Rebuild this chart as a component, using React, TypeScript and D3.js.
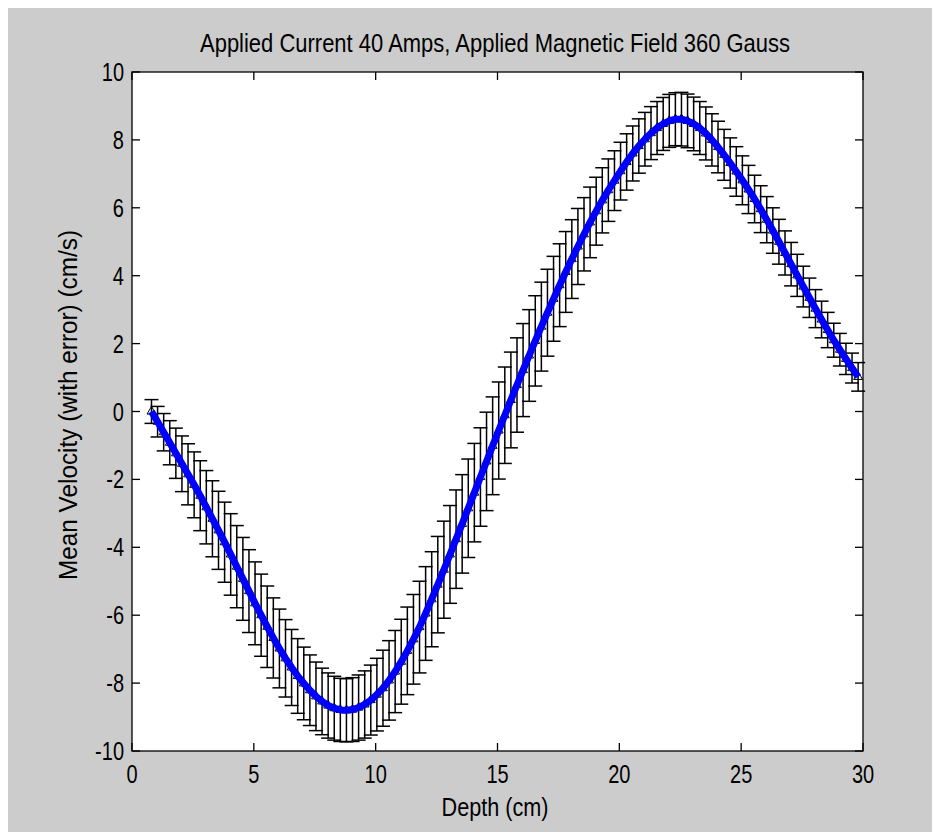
import React from 'react';
import * as d3 from 'd3';

const depth = [
  0.8, 1.05, 1.3, 1.55, 1.8, 2.05, 2.3, 2.55, 2.8, 3.05,
  3.3, 3.55, 3.8, 4.05, 4.3, 4.55, 4.8, 5.05, 5.3, 5.55, 5.8, 6.05, 6.3, 6.55, 6.8, 7.05,
  7.3, 7.55, 7.8, 8.05, 8.3, 8.55, 8.8, 9.05, 9.3, 9.55, 9.8, 10.05, 10.3,
  10.55, 10.8, 11.05, 11.3, 11.55, 11.8, 12.05, 12.3, 12.55, 12.8, 13.05,
  13.3, 13.55, 13.8, 14.05, 14.3, 14.55, 14.8, 15.05, 15.3, 15.55, 15.8, 16.05, 16.3, 16.55, 16.8, 17.05,
  17.3, 17.55, 17.8, 18.05, 18.3, 18.55, 18.8, 19.05, 19.3, 19.55, 19.8, 20.05,
  20.3, 20.55, 20.8, 21.05, 21.3, 21.55, 21.8, 22.05, 22.3, 22.55,
  22.8, 23.05, 23.3, 23.55, 23.8, 24.05, 24.3, 24.55, 24.8, 25.05,
  25.3, 25.55, 25.8, 26.05, 26.3, 26.55, 26.8, 27.05, 27.3, 27.55, 27.8, 28.05, 28.3, 28.55, 28.8, 29.05, 29.3, 29.55, 29.8,
];

const velocity = [
  0.0, -0.3, -0.61, -0.92, -1.23, -1.54, -1.85, -2.16, -2.48, -2.82,
  -3.16, -3.5, -3.85, -4.21, -4.57, -4.93, -5.29, -5.65, -6.0, -6.34, -6.67, -6.98, -7.27, -7.54, -7.79, -8.01,
  -8.21, -8.39, -8.54, -8.66, -8.74, -8.79, -8.8, -8.78, -8.72, -8.63, -8.5, -8.34, -8.15,
  -7.92, -7.66, -7.37, -7.05, -6.71, -6.35, -5.95, -5.53, -5.1, -4.66, -4.21,
  -3.76, -3.31, -2.85, -2.39, -1.93, -1.47, -1.01, -0.56, -0.11, 0.34, 0.78, 1.22, 1.65, 2.08, 2.5, 2.91,
  3.32, 3.72, 4.11, 4.49, 4.86, 5.22, 5.57, 5.9, 6.22, 6.52, 6.8, 7.08,
  7.35, 7.6, 7.82, 8.02, 8.2, 8.35, 8.47, 8.56, 8.61, 8.61,
  8.56, 8.47, 8.35, 8.19, 8.0, 7.79, 7.56, 7.32, 7.07, 6.81,
  6.54, 6.26, 5.96, 5.65, 5.33, 5.0, 4.67, 4.34, 4.01, 3.68, 3.35, 3.03, 2.71, 2.4, 2.1, 1.82, 1.55, 1.28, 1.02,
];

const errorVal = [
  0.35, 0.45, 0.55, 0.65, 0.74, 0.82, 0.9, 0.97, 1.03, 1.08,
  1.12, 1.15, 1.18, 1.2, 1.21, 1.22, 1.22, 1.22, 1.21, 1.2, 1.18, 1.16, 1.14, 1.12, 1.1, 1.07,
  1.04, 1.01, 0.98, 0.96, 0.94, 0.93, 0.93, 0.94, 0.96, 0.99, 1.03, 1.07, 1.12,
  1.17, 1.21, 1.25, 1.29, 1.32, 1.35, 1.38, 1.4, 1.42, 1.43, 1.44,
  1.45, 1.45, 1.45, 1.45, 1.45, 1.45, 1.44, 1.43, 1.42, 1.41, 1.39, 1.37, 1.35, 1.33, 1.31, 1.28,
  1.25, 1.22, 1.19, 1.16, 1.12, 1.08, 1.04, 1.0, 0.96, 0.92, 0.88, 0.85,
  0.83, 0.81, 0.8, 0.79, 0.78, 0.78, 0.78, 0.78, 0.78, 0.79,
  0.79, 0.79, 0.78, 0.78, 0.77, 0.76, 0.75, 0.74, 0.73, 0.72,
  0.71, 0.7, 0.69, 0.68, 0.67, 0.66, 0.65, 0.64, 0.62, 0.6, 0.58, 0.56, 0.54, 0.52, 0.5, 0.48, 0.46, 0.44, 0.42,
];

const xTicks = [0, 5, 10, 15, 20, 25, 30];
const yTicks = [-10, -8, -6, -4, -2, 0, 2, 4, 6, 8, 10];

const titleText = 'Applied Current 40 Amps, Applied Magnetic Field 360 Gauss';
const xLabel = 'Depth (cm)';
const yLabel = 'Mean Velocity (with error) (cm/s)';

const FONT = "'Liberation Sans', Arial, sans-serif";

export default function App() {
  const W = 932;
  const H = 824;
  const L = 124, R = 855, T = 64, B = 743;
  const x = d3.scaleLinear().domain([0, 30]).range([L, R]);
  const y = d3.scaleLinear().domain([-10, 10]).range([B, T]);
  const line = d3
    .line<number>()
    .x((_, i) => x(depth[i]))
    .y((d) => y(d));
  const tri = d3.symbol(d3.symbolTriangle, 34)() || '';
  const cap = 7;
  const tickLen = 8;
  const sx = 0.8;

  return (
    <svg width={W} height={H} style={{ display: 'block' }} fontFamily={FONT}>
      <rect x={0} y={0} width={W} height={H} fill="#cccccc" />
      <rect x={L} y={T} width={R - L} height={B - T} fill="#ffffff" />

      {/* error bars */}
      <g stroke="#000" strokeWidth={1.5} fill="none">
        {velocity.map((v, i) => {
          const cx = x(depth[i]);
          const y1 = y(v + errorVal[i]);
          const y2 = y(v - errorVal[i]);
          return (
            <g key={i}>
              <line x1={cx} x2={cx} y1={y1} y2={y2} />
              <line x1={cx - cap} x2={cx + cap} y1={y1} y2={y1} />
              <line x1={cx - cap} x2={cx + cap} y1={y2} y2={y2} />
            </g>
          );
        })}
      </g>

      {/* markers */}
      <g stroke="#000" strokeWidth={1} fill="none">
        {velocity.map((v, i) => (
          <path key={i} d={tri} transform={`translate(${x(depth[i])},${y(v)})`} />
        ))}
      </g>

      {/* blue line */}
      <path d={line(velocity) || ''} fill="none" stroke="#0000ff" strokeWidth={7} strokeLinejoin="round" />

      {/* axes box */}
      <rect x={L} y={T} width={R - L} height={B - T} fill="none" stroke="#000" strokeWidth={1.3} />

      {/* ticks */}
      <g stroke="#000" strokeWidth={1.3}>
        {xTicks.map((t) => (
          <g key={'x' + t}>
            <line x1={x(t)} x2={x(t)} y1={B} y2={B - tickLen} />
            <line x1={x(t)} x2={x(t)} y1={T} y2={T + tickLen} />
          </g>
        ))}
        {yTicks.map((t) => (
          <g key={'y' + t}>
            <line x1={L} x2={L + tickLen} y1={y(t)} y2={y(t)} />
            <line x1={R} x2={R - tickLen} y1={y(t)} y2={y(t)} />
          </g>
        ))}
      </g>

      {/* tick labels */}
      <g fontSize={25} fill="#000">
        {xTicks.map((t) => (
          <text key={'xl' + t} transform={`translate(${x(t)},775) scale(${sx},1)`} textAnchor="middle">
            {t}
          </text>
        ))}
        {yTicks.map((t) => (
          <text key={'yl' + t} transform={`translate(${L - 8},${y(t) + 9}) scale(${sx},1)`} textAnchor="end">
            {t}
          </text>
        ))}
      </g>

      {/* title */}
      <text x={487} y={44} textAnchor="middle" fontSize={26} fill="#000" textLength={590} lengthAdjust="spacingAndGlyphs">
        {titleText}
      </text>

      {/* x label */}
      <text x={487} y={808} textAnchor="middle" fontSize={26} fill="#000" textLength={107} lengthAdjust="spacingAndGlyphs">
        {xLabel}
      </text>

      {/* y label */}
      <text
        transform={`translate(68.5,397) rotate(-90)`}
        textAnchor="middle"
        fontSize={26}
        fill="#000"
        textLength={350}
        lengthAdjust="spacingAndGlyphs"
      >
        {yLabel}
      </text>
    </svg>
  );
}
